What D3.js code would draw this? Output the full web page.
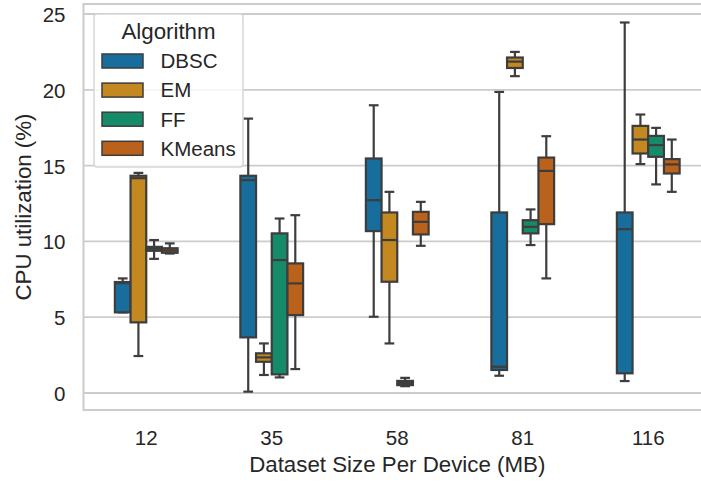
<!DOCTYPE html>
<html><head><meta charset="utf-8">
<script src="https://cdn.jsdelivr.net/npm/d3@7/dist/d3.min.js"></script>
<style>body{margin:0;background:#fff}svg{display:block}text{font-family:"Liberation Sans",Arial,sans-serif;fill:#262626}</style>
</head><body><svg id="c" width="701" height="483"></svg>
<script>
const categories = ["12", "35", "58", "81", "116"];
const algorithms = ["DBSC", "EM", "FF", "KMeans"];
const colors = ["#176d9c", "#c38820", "#168b6a", "#ba611b"];
// five-number summaries per category: [whiskerLow, q1, median, q3, whiskerHigh]
const dbscStats = [[5.32, 5.32, 7.25, 7.32, 7.56], [0.09, 3.67, 14.04, 14.33, 18.1], [5.03, 10.68, 12.72, 15.47, 18.98], [1.14, 1.52, 1.73, 11.91, 19.86], [0.79, 1.3, 10.81, 11.91, 24.44]];
const emStats = [[2.44, 4.66, 14.17, 14.33, 14.52], [1.19, 2.06, 2.35, 2.62, 3.27], [3.27, 7.34, 10.09, 11.91, 13.27], [20.9, 21.44, 21.86, 22.13, 22.5], [15.1, 15.8, 16.72, 17.62, 18.37]];
const ffStats = [[8.85, 9.38, 9.52, 9.64, 10.09], [1.03, 1.23, 8.77, 10.53, 11.51], [0.45, 0.52, 0.66, 0.8, 1.0], [9.76, 10.53, 10.96, 11.4, 12.11], [13.76, 15.58, 16.35, 16.96, 17.49]];
const kmeansStats = [[9.2, 9.25, 9.4, 9.55, 9.87], [1.58, 5.14, 7.23, 8.55, 11.73], [9.71, 10.46, 11.29, 11.95, 12.61], [7.56, 11.14, 14.65, 15.53, 16.94], [13.27, 14.48, 15.08, 15.43, 16.72]];
const yTicks = [0, 5, 10, 15, 20, 25];
const xLabel = "Dataset Size Per Device (MB)";
const yLabel = "CPU utilization (%)";
const legendTitle = "Algorithm";

const allStats = [dbscStats, emStats, ffStats, kmeansStats];
const svg = d3.select("#c");
const L = 83.5, T = 4, B = 410, step = 125.5;
const x = d3.scaleBand().domain(categories).range([L, L + step * categories.length]).padding(0);
const y = d3.scaleLinear().domain([-1.12, 25.66]).range([B, T]);
const inner = d3.scaleBand().domain(algorithms).range([x.bandwidth()*0.25, x.bandwidth()*0.75]).padding(0);
const grid = "#cccccc", edge = "#3d3d3d";

// grid
svg.append("g").selectAll("line").data(yTicks).join("line")
  .attr("x1", L).attr("x2", 701).attr("y1", d => y(d)).attr("y2", d => y(d))
  .attr("stroke", grid).attr("stroke-width", 1.8);
// spines
svg.append("path").attr("d", `M701,${T}H${L}V${B}H701`).attr("fill","none").attr("stroke", grid).attr("stroke-width", 2);

// y axis
const yAxis = svg.append("g").attr("transform", `translate(${L},0)`)
  .call(d3.axisLeft(y).tickValues(yTicks).tickSize(0).tickPadding(18));
yAxis.select(".domain").remove();
yAxis.selectAll("text").style("font-size","20.5px").attr("fill","#262626").attr("dy","0.36em");
// x axis
const xAxis = svg.append("g").attr("transform", `translate(0,${B})`)
  .call(d3.axisBottom(x).tickSize(0).tickPadding(20));
xAxis.select(".domain").remove();
xAxis.selectAll("text").style("font-size","20.5px").attr("fill","#262626");

svg.append("text").attr("x", x(categories[2]) + x.bandwidth()/2).attr("y", 472)
  .attr("text-anchor","middle").style("font-size","22.3px").text(xLabel);
svg.append("text").attr("transform", `translate(31,${(T+B)/2}) rotate(-90)`)
  .attr("text-anchor","middle").style("font-size","22.3px").text(yLabel);

// boxes
const bw = inner.bandwidth();
const capW = bw * 0.62;
algorithms.forEach((alg, ai) => {
  const g = svg.append("g");
  allStats[ai].forEach((s, ci) => {
    const cx = x(categories[ci]) + inner(alg) + bw/2;
    const [lo, q1, med, q3, hi] = s;
    g.append("line").attr("x1", cx).attr("x2", cx).attr("y1", y(q3)).attr("y2", y(hi)).attr("stroke", edge).attr("stroke-width", 2.2);
    g.append("line").attr("x1", cx).attr("x2", cx).attr("y1", y(q1)).attr("y2", y(lo)).attr("stroke", edge).attr("stroke-width", 2.2);
    g.append("line").attr("x1", cx-capW/2).attr("x2", cx+capW/2).attr("y1", y(hi)).attr("y2", y(hi)).attr("stroke", edge).attr("stroke-width", 2.2);
    g.append("line").attr("x1", cx-capW/2).attr("x2", cx+capW/2).attr("y1", y(lo)).attr("y2", y(lo)).attr("stroke", edge).attr("stroke-width", 2.2);
    g.append("rect").attr("x", cx - bw/2).attr("width", bw).attr("y", y(q3)).attr("height", y(q1)-y(q3))
      .attr("fill", colors[ai]).attr("stroke", edge).attr("stroke-width", 2.2);
    g.append("line").attr("x1", cx-bw/2).attr("x2", cx+bw/2).attr("y1", y(med)).attr("y2", y(med)).attr("stroke", edge).attr("stroke-width", 2.2);
  });
});

// legend
const lg = svg.append("g");
lg.append("rect").attr("x", 94).attr("y", 14).attr("width", 149).attr("height", 153).attr("rx", 3)
  .attr("fill","#ffffff").attr("fill-opacity",0.8).attr("stroke","#d6d6d6").attr("stroke-width",1.5);
lg.append("text").attr("x", 168.5).attr("y", 38.5).attr("text-anchor","middle").style("font-size","22.3px").text(legendTitle);
algorithms.forEach((alg, i) => {
  const cy = 61 + i * 29.1;
  lg.append("rect").attr("x", 102).attr("y", cy - 7).attr("width", 41).attr("height", 14)
    .attr("fill", colors[i]).attr("stroke", edge).attr("stroke-width", 1.5);
  lg.append("text").attr("x", 160.5).attr("y", cy).attr("dy","0.36em").style("font-size","20.5px").text(alg);
});
</script></body></html>
